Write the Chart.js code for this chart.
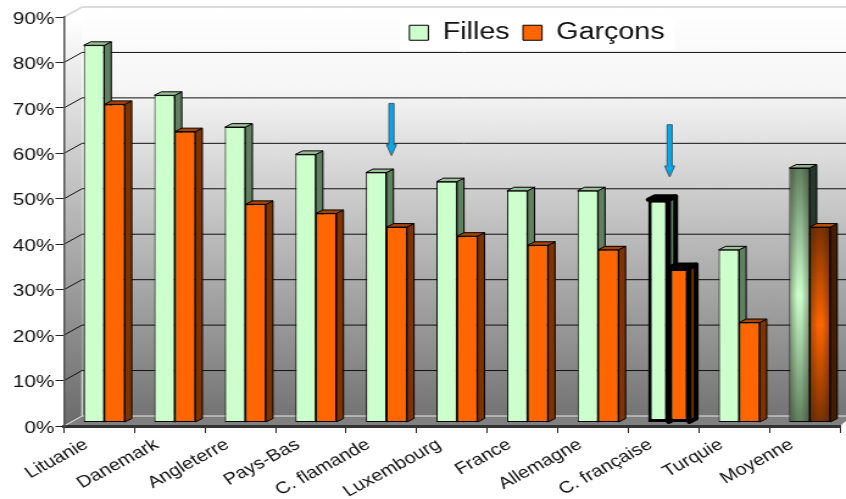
<!DOCTYPE html>
<html>
<head>
<meta charset="utf-8">
<title>Filles / Garçons</title>
<script src="https://cdn.jsdelivr.net/npm/chart.js@4"></script>
<style>
    html, body { margin: 0; padding: 0; background: #fff; overflow: hidden; }
    /* the reference is a picture stretched sideways, text included */
    #chart { display: block; transform-origin: 0 0; transform: scaleX(1.219); }
</style>
</head>
<body>
<canvas id="chart" width="694" height="499"></canvas>
<script>
const categories = ["Lituanie", "Danemark", "Angleterre", "Pays-Bas", "C. flamande", "Luxembourg",
    "France", "Allemagne", "C. française", "Turquie", "Moyenne"];
const filles = [83, 72, 65, 59, 55, 53, 51, 51, 49, 38, 56];
const garcons = [70, 64, 48, 46, 43, 41, 39, 38, 34, 22, 43];

// arrows: category index, tail value, tip value
const arrowIndex = [4, 8];
const arrowTail = [71, 66.3];
const arrowTip = [59.5, 54.8];

const highlightIndex = 8;
const averageIndex = 10;

const SX = 846 / 694;
const WALL_DX = 18 / SX, WALL_DY = 10;
const BAR_DX = 5 / SX, BAR_DY = 3.5;
const SIDE_DX = 7 / SX, SIDE_DY = 3.5;

const palette = [
    { front: "#ccffcc", side: "#608060", top: "#99c099", avgSide: "#26382c", avgTop: "#8fb08f",
      avgStops: [[0, "#5f7f5f"], [0.5, "#ccffcc"], [1, "#5f7f5f"]] },
    { front: "#ff6600", side: "#7f3300", top: "#a84400", avgSide: "#451c00", avgTop: "#c25000",
      avgStops: [[0, "#7a3100"], [0.5, "#ff6600"], [1, "#7a3100"]] }
];


// =======================================================
// WALLS, FLOOR AND BACK GRIDLINES
// =======================================================
function drawWalls(chart) {
    const ctx = chart.ctx;
    const area = chart.chartArea;
    const y = chart.scales.y;
    const right = chart.width;
    const backBottom = area.bottom - WALL_DY;
    const backTop = area.top - WALL_DY;
    const backLeft = area.left + WALL_DX;

    ctx.save();

    const wall = ctx.createLinearGradient(0, backTop, 0, backBottom);
    wall.addColorStop(0, "#ffffff");
    wall.addColorStop(0.2, "#f6f6f6");
    wall.addColorStop(1, "#747474");
    ctx.fillStyle = wall;
    ctx.fillRect(backLeft, backTop, right - backLeft, backBottom - backTop);

    const side = ctx.createLinearGradient(0, area.top, 0, area.bottom);
    side.addColorStop(0, "#ffffff");
    side.addColorStop(1, "#6a6a6a");
    ctx.fillStyle = side;
    ctx.beginPath();
    ctx.moveTo(area.left, area.top);
    ctx.lineTo(backLeft, backTop);
    ctx.lineTo(backLeft, backBottom);
    ctx.lineTo(area.left, area.bottom);
    ctx.closePath();
    ctx.fill();

    ctx.fillStyle = "#808080";
    ctx.beginPath();
    ctx.moveTo(area.left, area.bottom);
    ctx.lineTo(backLeft, backBottom);
    ctx.lineTo(right, backBottom);
    ctx.lineTo(right, area.bottom - 5);
    ctx.lineTo(area.right, area.bottom);
    ctx.closePath();
    ctx.fill();

    // top and inner edges
    ctx.strokeStyle = "#d9d9d9";
    ctx.lineWidth = 2;
    ctx.beginPath();
    ctx.moveTo(backLeft, backTop);
    ctx.lineTo(right, backTop);
    ctx.moveTo(area.left, area.top);
    ctx.lineTo(backLeft, backTop);
    ctx.stroke();

    ctx.strokeStyle = "#e8e8e8";
    ctx.lineWidth = 1;
    ctx.beginPath();
    ctx.moveTo(area.left, area.bottom);
    ctx.lineTo(backLeft, backBottom);
    ctx.lineTo(right, backBottom);
    ctx.moveTo(backLeft, backBottom);
    ctx.lineTo(backLeft, backBottom - 45);
    ctx.stroke();

    // gridlines, front tick to back wall
    ctx.strokeStyle = "#111";
    ctx.lineWidth = 1;
    y.ticks.forEach(t => {
        if (t.value === 0 || t.value === 90) return;
        const py = y.getPixelForValue(t.value);
        ctx.beginPath();
        ctx.moveTo(area.left, py);
        ctx.lineTo(backLeft, py - WALL_DY);
        ctx.lineTo(right, py - WALL_DY);
        ctx.stroke();
    });

    // pale box behind the legend
    ctx.fillStyle = "#ffffff";
    ctx.fillRect(400 / SX, 17, 275 / SX, 33);

    ctx.restore();
}


// =======================================================
// SIDE AND TOP FACES OF THE BARS
// =======================================================
function drawFaces(ctx, bar, colors, index) {
    const half = bar.width / 2;
    const l = bar.x - half, r = bar.x + half;
    const t = bar.y, b = bar.base;
    const heavy = index === highlightIndex;
    const avg = index === averageIndex;

    ctx.strokeStyle = "#000";
    ctx.lineWidth = heavy ? 4 : 1;
    ctx.lineJoin = "round";

    ctx.fillStyle = avg ? colors.avgSide : colors.side;
    ctx.beginPath();
    ctx.moveTo(r, t);
    ctx.lineTo(r + SIDE_DX, t - SIDE_DY);
    ctx.lineTo(r + SIDE_DX, b - SIDE_DY);
    ctx.lineTo(r, b);
    ctx.closePath();
    ctx.fill();
    ctx.stroke();

    ctx.fillStyle = avg ? colors.avgTop : colors.top;
    ctx.beginPath();
    ctx.moveTo(l, t);
    ctx.lineTo(l + SIDE_DX, t - SIDE_DY);
    ctx.lineTo(r + SIDE_DX, t - SIDE_DY);
    ctx.lineTo(r, t);
    ctx.closePath();
    ctx.fill();
    ctx.stroke();
}

// darkens the edges of the average bars, so the light sits in the middle
function shadeAverage(ctx, bar) {
    const half = bar.width / 2;
    const grad = ctx.createLinearGradient(bar.x - half, 0, bar.x + half, 0);
    grad.addColorStop(0, "rgba(40,30,20,0.4)");
    grad.addColorStop(0.4, "rgba(40,30,20,0)");
    grad.addColorStop(0.6, "rgba(40,30,20,0)");
    grad.addColorStop(1, "rgba(40,30,20,0.4)");
    ctx.fillStyle = grad;
    ctx.fillRect(bar.x - half + 1, bar.y + 1, bar.width - 2, bar.base - bar.y - 2);
}


// =======================================================
// ARROWS
// =======================================================
function drawArrows(chart) {
    const ctx = chart.ctx;
    const x = chart.scales.x;
    const y = chart.scales.y;

    ctx.save();
    ctx.fillStyle = "#00aaf0";
    ctx.strokeStyle = "#4a5a66";
    ctx.lineWidth = 1;
    arrowIndex.forEach((cat, i) => {
        const cx = x.getPixelForValue(cat) + 10 / SX - (cat === 8 ? 4 / SX : 0);
        const tail = y.getPixelForValue(arrowTail[i]);
        const tip = y.getPixelForValue(arrowTip[i]);
        const shaft = 2.5 / SX, head = 5 / SX;
        ctx.beginPath();
        ctx.moveTo(cx - shaft, tail);
        ctx.lineTo(cx + shaft, tail);
        ctx.lineTo(cx + shaft, tip - 11);
        ctx.lineTo(cx + head, tip - 11);
        ctx.lineTo(cx, tip);
        ctx.lineTo(cx - head, tip - 11);
        ctx.lineTo(cx - shaft, tip - 11);
        ctx.closePath();
        ctx.fill();
        ctx.stroke();
    });
    ctx.restore();
}


// =======================================================
// PER BAR STYLES
// =======================================================
function barFill(colors) {
    return c => {
        if (c.type !== "data" || c.dataIndex !== averageIndex) return colors.front;
        const y = c.chart.scales.y;
        const grad = c.chart.ctx.createLinearGradient(0, y.getPixelForValue(c.raw), 0, y.getPixelForValue(0));
        colors.avgStops.forEach(s => grad.addColorStop(s[0], s[1]));
        return grad;
    };
}

function barBorder(c) {
    return c.type === "data" && c.dataIndex === highlightIndex ? 3 : 1;
}


const plugin3d = {
    id: "plugin3d",
    afterInit(chart) {
        // one row, even though the legend sits inside the plot
        chart.legend.isHorizontal = () => true;
    },
    afterLayout(chart) {
        const lg = chart.legend;
        lg.left = 396 / SX;
        lg.right = lg.left + lg.width;
        lg.top = 10;
        lg.bottom = lg.top + lg.height;
    },
    beforeDraw(chart) {
        drawWalls(chart);
    },
    beforeDatasetsDraw(chart) {
        // Chart.js paints the last dataset first, so the faces go in here, Filles first
        const ctx = chart.ctx;
        ctx.save();
        ctx.translate(BAR_DX, -BAR_DY);
        chart.data.datasets.forEach((d, n) => {
            chart.getDatasetMeta(n).data.forEach((bar, i) => drawFaces(ctx, bar, palette[n], i));
        });
        ctx.restore();
    },
    beforeDatasetDraw(chart) {
        chart.ctx.save();
        chart.ctx.translate(BAR_DX, -BAR_DY);
    },
    afterDatasetDraw(chart, args) {
        shadeAverage(chart.ctx, args.meta.data[averageIndex]);
        chart.ctx.restore();
    },
    afterDatasetsDraw(chart) {
        drawArrows(chart);
    }
};


// =======================================================
// CHART
// =======================================================
document.addEventListener("DOMContentLoaded", () => {
    const ctx = document.getElementById("chart").getContext("2d");

    new Chart(ctx, {
        type: "bar",
        data: {
            labels: categories,
            datasets: [
                { label: "Filles", data: filles, clip: false, borderSkipped: false,
                  backgroundColor: barFill(palette[0]), borderColor: "#000", borderWidth: barBorder },
                { label: "Garçons", data: garcons, clip: false, borderSkipped: false,
                  backgroundColor: barFill(palette[1]), borderColor: "#000", borderWidth: barBorder }
            ]
        },
        options: {
            responsive: false,
            animation: false,
            devicePixelRatio: 1,
            categoryPercentage: 0.582,
            barPercentage: 1,
            layout: { padding: { left: 0, right: 6 / SX, top: 17, bottom: 0 } },
            plugins: {
                tooltip: { enabled: false },
                legend: {
                    position: "chartArea",
                    align: "start",
                    labels: {
                        boxWidth: 19 / SX,
                        boxHeight: 15,
                        padding: 11,
                        color: "#111",
                        font: { family: "'Liberation Sans'", size: 23.5 }
                    }
                }
            },
            scales: {
                x: {
                    afterFit: s => { s.height = 73; },
                    grid: { offset: true, drawOnChartArea: false, color: "#222", tickLength: 7 },
                    border: { color: "#333", width: 3 },
                    ticks: {
                        color: "#111",
                        autoSkip: false,
                        minRotation: 33,
                        maxRotation: 33,
                        labelOffset: -13 / SX,
                        padding: 2,
                        font: { family: "'Liberation Sans'", size: 16.5 }
                    }
                },
                y: {
                    min: 0,
                    max: 90,
                    afterFit: s => { s.width = 64 / SX; },
                    grid: { drawOnChartArea: false, color: "#222", tickLength: 7 },
                    border: { color: "#555", width: 1.5 },
                    ticks: {
                        stepSize: 10,
                        color: "#111",
                        padding: 1,
                        labelOffset: 2,
                        callback: v => v + "%",
                        font: { family: "'Liberation Sans'", size: 17 }
                    }
                }
            }
        },
        plugins: [plugin3d]
    });
});
</script>
</body>
</html>
